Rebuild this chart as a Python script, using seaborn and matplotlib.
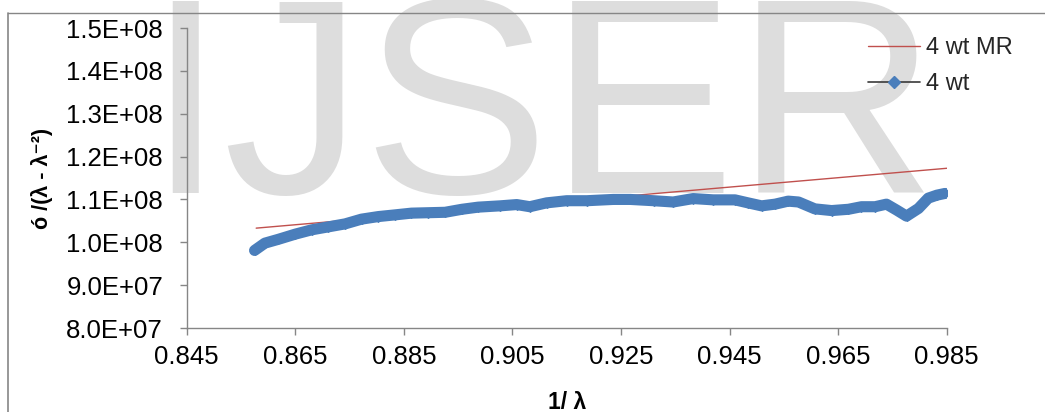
import matplotlib
matplotlib.use("Agg")
import matplotlib.pyplot as plt
from matplotlib.lines import Line2D
import pandas as pd
import seaborn as sns

# ---- data ----
x_wt = [0.8575, 0.8594, 0.8619, 0.8650, 0.8680, 0.8711, 0.8742, 0.8772, 0.8803,
        0.8834, 0.8864, 0.8895, 0.8926, 0.8957, 0.8987, 0.9027, 0.9058, 0.9082,
        0.9113, 0.9150, 0.9187, 0.9236, 0.9267, 0.9310, 0.9346, 0.9383, 0.9420,
        0.9460, 0.9484, 0.9509, 0.9534, 0.9558, 0.9577, 0.9607, 0.9638, 0.9669,
        0.9693, 0.9718, 0.9739, 0.9758, 0.9776, 0.9798, 0.9816, 0.9832, 0.9847]
y_wt = [0.981e8, 0.998e8, 1.007e8, 1.019e8, 1.029e8, 1.036e8, 1.043e8, 1.054e8, 1.060e8,
        1.064e8, 1.068e8, 1.069e8, 1.070e8, 1.077e8, 1.082e8, 1.085e8, 1.088e8, 1.083e8,
        1.092e8, 1.097e8, 1.097e8, 1.100e8, 1.100e8, 1.097e8, 1.094e8, 1.102e8, 1.099e8,
        1.099e8, 1.092e8, 1.085e8, 1.089e8, 1.096e8, 1.094e8, 1.078e8, 1.074e8, 1.077e8,
        1.083e8, 1.083e8, 1.089e8, 1.075e8, 1.061e8, 1.079e8, 1.103e8, 1.110e8, 1.114e8]
x_mr = [0.8578, 0.9853]
y_mr = [1.033e8, 1.173e8]

x_ticks = [0.845, 0.865, 0.885, 0.905, 0.925, 0.945, 0.965, 0.985]
x_tick_labels = ["0.845", "0.865", "0.885", "0.905", "0.925", "0.945", "0.965", "0.985"]
y_ticks = [8.0e7, 9.0e7, 1.0e8, 1.1e8, 1.2e8, 1.3e8, 1.4e8, 1.5e8]
y_tick_labels = ["8.0E+07", "9.0E+07", "1.0E+08", "1.1E+08", "1.2E+08", "1.3E+08", "1.4E+08", "1.5E+08"]

series_names = ["4 wt MR", "4 wt"]
x_label = "1/ λ"
y_label = "ó /(λ - λ⁻²)"
watermark = "IJSER"

# ---- style ----
sns.set_theme(style="white")
plt.rcParams["font.family"] = ["Liberation Sans", "DejaVu Sans"]

BLUE = "#4A7EBB"
RED = "#C0504D"
GRAY = "#868686"

fig = plt.figure(figsize=(10.45, 4.12), dpi=100)
W, H = 1045, 412
ax = fig.add_axes([186.7 / W, 1 - 328 / H, 760 / W, 300 / H])
ax.set_facecolor("none")

# watermark behind everything
fig.text(146 / W, 1 - 193 / H, watermark, fontsize=201, color="#dddddd",
         ha="left", va="baseline", zorder=-10)

# outer chart-area border (left and top)
fig.add_artist(Line2D([8 / W, 8 / W], [0, 1 - 13 / H], transform=fig.transFigure,
                      color=GRAY, lw=1.2))
fig.add_artist(Line2D([8 / W, 1], [1 - 13 / H, 1 - 13 / H], transform=fig.transFigure,
                      color=GRAY, lw=1.0))

df_mr = pd.DataFrame({"x": x_mr, "y": y_mr})
sns.lineplot(data=df_mr, x="x", y="y", ax=ax, color=RED, lw=1.0, zorder=2,
             estimator=None, sort=False)

df_wt = pd.DataFrame({"x": x_wt, "y": y_wt})
sns.lineplot(data=df_wt, x="x", y="y", ax=ax, color=BLUE, lw=8, zorder=3,
             marker="D", markersize=5.5, markeredgecolor=BLUE, markerfacecolor=BLUE,
             solid_capstyle="round", solid_joinstyle="round",
             estimator=None, sort=False)

ax.set_xlim(0.845, 0.985)
ax.set_ylim(8.0e7, 1.5e8)
ax.set_xticks(x_ticks)
ax.set_xticklabels(x_tick_labels)
ax.set_yticks(y_ticks)
ax.set_yticklabels(y_tick_labels)

for s in ["top", "right"]:
    ax.spines[s].set_visible(False)
for s in ["left", "bottom"]:
    ax.spines[s].set_color(GRAY)
    ax.spines[s].set_linewidth(1.0)

ax.tick_params(axis="both", direction="out", length=5, width=1.0, color=GRAY,
               labelsize=18.5, labelcolor="black")
ax.tick_params(axis="y", pad=12, left=True)
ax.tick_params(axis="x", pad=7.5, bottom=True)

ax.set_xlabel(x_label, fontsize=16.5, fontweight="bold", color="black")
ax.set_ylabel(y_label, fontsize=15.5, fontweight="bold", color="black")
ax.xaxis.set_label_coords(0.5, -0.21)
ax.yaxis.set_label_coords(-0.176, 0.5)

handles = [
    Line2D([], [], color=RED, lw=1.0),
    Line2D([], [], color="#3a3a3a", lw=1.2, marker="D", markersize=6.5,
           markerfacecolor=BLUE, markeredgecolor=BLUE),
]
fig.legend(handles, series_names, loc="upper left",
           bbox_to_anchor=(868 / W, 1 - 37 / H), bbox_transform=fig.transFigure,
           frameon=False, fontsize=17, handlelength=2.2, handletextpad=0.25,
           labelspacing=0.6, borderpad=0, borderaxespad=0)

fig.savefig("out.png", dpi=100)
